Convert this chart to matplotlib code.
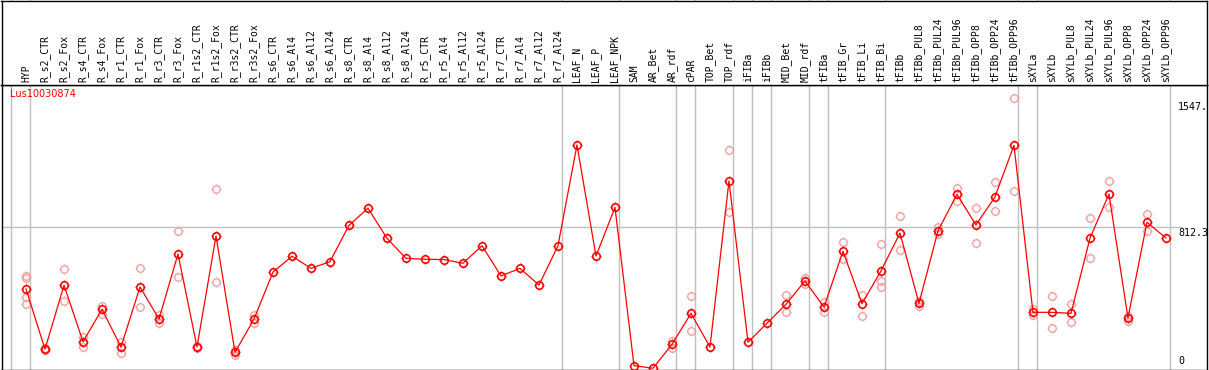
import matplotlib
matplotlib.use("Agg")
from matplotlib import pyplot as plt
from matplotlib.path import Path

samples = ["HYP",
           "R_s2_CTR", "R_s2_Fox", "R_s4_CTR", "R_s4_Fox", "R_r1_CTR", "R_r1_Fox",
           "R_r3_CTR", "R_r3_Fox", "R_r1s2_CTR", "R_r1s2_Fox", "R_r3s2_CTR", "R_r3s2_Fox",
           "R_s6_CTR", "R_s6_Al4", "R_s6_Al12", "R_s6_Al24",
           "R_s8_CTR", "R_s8_Al4", "R_s8_Al12", "R_s8_Al24",
           "R_r5_CTR", "R_r5_Al4", "R_r5_Al12", "R_r5_Al24",
           "R_r7_CTR", "R_r7_Al4", "R_r7_Al12", "R_r7_Al24",
           "LEAF_N", "LEAF_P", "LEAF_NPK",
           "SAM", "AR_Bet", "AR_rdf", "cPAR", "TOP_Bet", "TOP_rdf", "iFIBa", "iFIBb",
           "MID_Bet", "MID_rdf", "tFIBa", "tFIB_Gr", "tFIB_Li", "tFIB_Bi",
           "tFIBb", "tFIBb_PUL8", "tFIBb_PUL24", "tFIBb_PUL96",
           "tFIBb_OPP8", "tFIBb_OPP24", "tFIBb_OPP96",
           "sXYLa", "sXYLb", "sXYLb_PUL8", "sXYLb_PUL24", "sXYLb_PUL96",
           "sXYLb_OPP8", "sXYLb_OPP24", "sXYLb_OPP96"]

# sizes of the sample groups (separated by grey lines)
group_sizes = [1, 28, 3, 3, 1, 2, 1, 1, 2, 1, 3, 7, 1, 7]

means = [461, 118, 482, 161, 345, 131, 472, 290, 660, 131, 762, 101, 290,
         557, 647, 578, 616, 823, 920, 749, 635, 630, 628, 607, 707,
         535, 578, 483, 707,
         1280, 648, 925,
         25, 10, 146, 322, 131, 1075, 158, 266, 374, 506, 358, 675, 377, 563,
         779, 379, 791, 999, 825, 984, 1278,
         328, 328, 322, 749, 1001, 296, 840, 751]

# replicate values per sample
replicates = {
    0: [535, 522, 417, 375], 1: [123, 114, 116], 2: [573, 392], 3: [189, 133],
    4: [366, 318], 5: [161, 98], 6: [578, 357], 7: [313, 266], 8: [789, 527],
    9: [138, 124], 10: [1028, 500], 11: [85, 116], 12: [313, 266],
    34: [167, 123], 35: [421, 222], 37: [1250, 897], 40: [427, 328],
    41: [521, 487], 42: [385, 332], 43: [726, 630], 44: [427, 307],
    45: [715, 506, 472], 46: [876, 682], 47: [394, 364], 48: [815, 773],
    49: [1033, 963], 50: [920, 721], 51: [1067, 903], 52: [1547, 1018],
    53: [347, 313], 54: [419, 237], 55: [375, 271], 56: [863, 635],
    57: [1073, 925], 58: [307, 280], 59: [886, 789],
}

gene = "Lus10030874"
y_max = 1547
y_ref = 812.3

W, H = 1209, 370


def px(l, t, r, b):
    return [l / W, 1 - b / H, (r - l) / W, (b - t) / H]


# four little ticks around the circle markers
ticks = Path([(0, 1), (0, 1.3), (0, -1), (0, -1.3), (1, 0), (1.3, 0), (-1, 0), (-1.3, 0)],
             [Path.MOVETO, Path.LINETO] * 4)
CS = 5.4
TK = CS * 1.3


def markers(x, y, col, lw, zo):
    ax.plot(x, y, linestyle="none", marker="o", markersize=CS, mfc="none",
            mec=col, mew=lw, zorder=zo)
    ax.plot(x, y, linestyle="none", marker=ticks, markersize=TK, mfc="none",
            mec=col, mew=lw * 0.7, zorder=zo)


fig = plt.figure(figsize=(W / 100, H / 100), dpi=100)
ax = fig.add_axes(px(1.5, 85, 1207, 369.5))
hdr = fig.add_axes(px(1.5, 0.5, 1207, 85))

xlim = (-1.29, 62.16)
ylim = (2.8, 1621)
for a in (ax, hdr):
    a.set_xlim(xlim)
    a.set_xticks([])
    a.set_yticks([])
    for s in a.spines.values():
        s.set_color("black")
        s.set_linewidth(1.0)
ax.set_ylim(ylim)
hdr.set_ylim(0, 1)

# group separator lines
bounds = [-1]
for g in group_sizes:
    bounds.append(bounds[-1] + g)
for b in bounds:
    ax.axvline(b + 0.21, ymin=0, ymax=1.3, color="#c0c0c0", lw=1.0, clip_on=False, zorder=0)

ax.hlines(y_ref, xlim[0], 60.85, color="#c0c0c0", lw=1.0, zorder=0)

xs = list(range(len(samples)))
for i, vals in replicates.items():
    markers([i] * len(vals), vals, "#f0a0a0", 1.0, 2)
ax.plot(xs, means, color="red", lw=0.9, zorder=3)
markers(xs, means, "red", 1.2, 3)

for i, name in enumerate(samples):
    hdr.text(i, 0.03, name, rotation=90, ha="center", va="bottom",
             fontsize=7, family="DejaVu Sans Mono")

ax.text(0.007, 0.985, gene, transform=ax.transAxes, color="red", fontsize=7,
        ha="left", va="top")

mono = dict(fontsize=7.2, family="DejaVu Sans Mono", ha="left")
ax.text(60.63, y_max - 20, "1547.", va="top", **mono)
ax.text(60.63, y_ref - 5, "812.3", va="top", **mono)
ax.text(60.63, 20, "0", va="bottom", **mono)

fig.savefig("out.png", dpi=100)
